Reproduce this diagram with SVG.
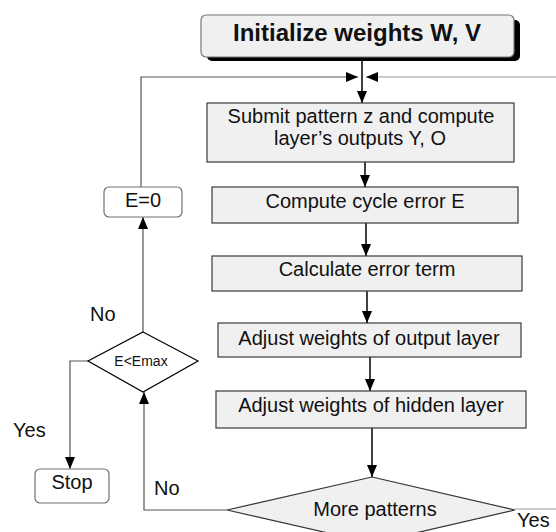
<svg xmlns="http://www.w3.org/2000/svg" width="556" height="532" viewBox="0 0 556 532">
<style>
  text { font-family: "Liberation Sans", Arial, sans-serif; font-size: 20px; fill: #111; text-anchor: middle; }
  text.title { font-size: 24px; font-weight: bold; }
  text.small { font-size: 14px; }
  .box { fill: #f0f0f0; stroke: #3a3a3a; stroke-width: 1.2; }
  .rbox { fill: #ffffff; stroke: #707070; stroke-width: 1.2; }
  .arrow { fill: none; stroke: #000; stroke-width: 1.5; }
  .loop { fill: none; stroke: #555; stroke-width: 1.2; }
  .loopl { fill: none; stroke: #999; stroke-width: 1.2; }
  text.lbl { text-anchor: start; }
</style>
<defs>
  <marker id="ah" viewBox="0 0 12 10" markerWidth="12" markerHeight="10" refX="12" refY="5" orient="auto" markerUnits="userSpaceOnUse">
    <path d="M0,0 L12,5 L0,10 z" fill="#000"/>
  </marker>
</defs>

<g id="connectors">
  <line class="arrow" x1="362" y1="57" x2="362" y2="103" marker-end="url(#ah)"/>
  <line class="arrow" x1="365" y1="162" x2="365" y2="187" marker-end="url(#ah)"/>
  <line class="arrow" x1="366" y1="223" x2="366" y2="256" marker-end="url(#ah)"/>
  <line class="arrow" x1="367" y1="291" x2="367" y2="323" marker-end="url(#ah)"/>
  <line class="arrow" x1="370" y1="357" x2="370" y2="391" marker-end="url(#ah)"/>
  <line class="arrow" x1="372" y1="428" x2="372" y2="477" marker-end="url(#ah)"/>
  <polyline class="loop" points="227,510 144,510 144,392" marker-end="url(#ah)"/>
  <line class="loop" x1="143" y1="332" x2="143" y2="217" marker-end="url(#ah)"/>
  <polyline class="loop" points="88,361 70,361 70,469" marker-end="url(#ah)"/>
  <polyline class="loop" points="141,187 141,77 358,77" marker-end="url(#ah)"/>
  <line class="loopl" x1="515" y1="509" x2="556" y2="509"/>
  <line class="loopl" x1="556" y1="77" x2="366" y2="77" marker-end="url(#ah)"/>
</g>

<g id="init">
  <rect x="207" y="20" width="313" height="41" rx="5" fill="#000"/>
  <rect x="201" y="15" width="313" height="42" rx="5" fill="#f0f0f0" stroke="#777" stroke-width="1.2"/>
  <text class="title" x="357" y="41">Initialize weights W, V</text>
</g>
<g id="submit">
  <rect class="box" x="207" y="103" width="307" height="59"/>
  <text x="361" y="123">Submit pattern z and compute</text>
  <text x="360" y="145">layer’s outputs Y, O</text>
</g>
<g id="cycle-error">
  <rect class="box" x="212" y="187" width="306" height="36"/>
  <text x="365" y="208">Compute cycle error E</text>
</g>
<g id="error-term">
  <rect class="box" x="212" y="256" width="310" height="35"/>
  <text x="367" y="276">Calculate error term</text>
</g>
<g id="adjust-output">
  <rect class="box" x="218" y="323" width="303" height="34"/>
  <text x="369" y="345">Adjust weights of output layer</text>
</g>
<g id="adjust-hidden">
  <rect class="box" x="216" y="391" width="310" height="37"/>
  <text x="371" y="412">Adjust weights of hidden layer</text>
</g>
<g id="more-patterns">
  <polygon points="372,477 515,510 372,543 227,510" fill="#f0f0f0" stroke="#333" stroke-width="1.2"/>
  <text x="375" y="516">More patterns</text>
</g>
<g id="e-zero">
  <rect class="rbox" x="104" y="187" width="78" height="30" rx="5"/>
  <text x="143" y="207">E=0</text>
</g>
<g id="e-less-emax">
  <polygon points="143,332 198,361 143,392 88,361" fill="#fff" stroke="#000" stroke-width="1.2"/>
  <text class="small" x="141" y="366">E&lt;Emax</text>
</g>
<g id="stop">
  <rect class="rbox" x="35" y="469" width="74" height="34" rx="5"/>
  <text x="72" y="489">Stop</text>
</g>
<g id="labels">
  <text class="lbl" x="90" y="321">No</text>
  <text class="lbl" x="13" y="437">Yes</text>
  <text class="lbl" x="154" y="495">No</text>
  <text class="lbl" x="517" y="527">Yes</text>
</g>
</svg>
